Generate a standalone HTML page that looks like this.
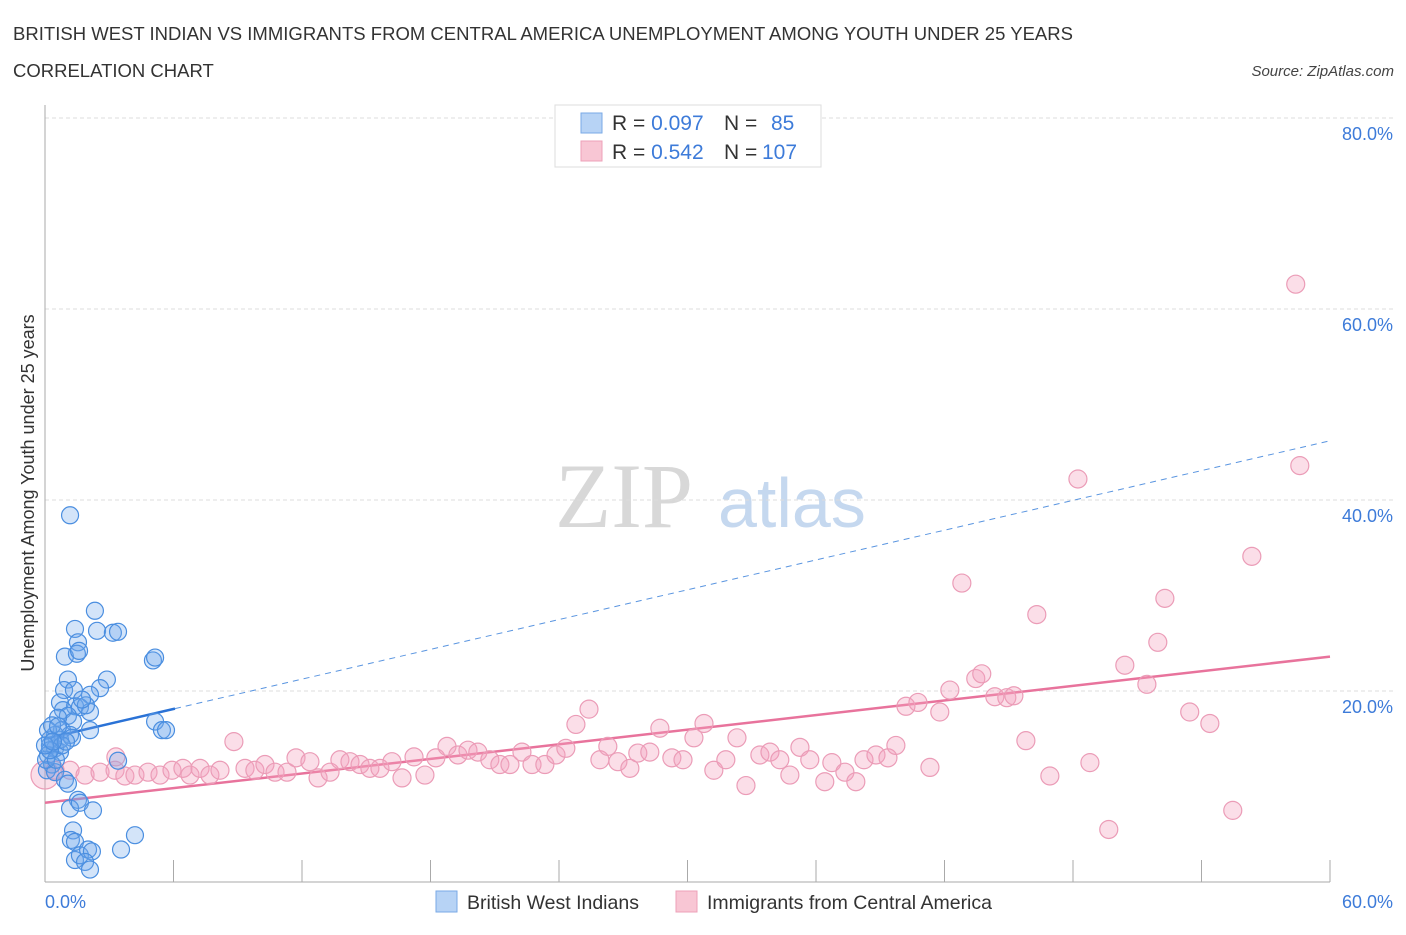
<!DOCTYPE html>
<html><head><meta charset="utf-8"><style>
body{margin:0;background:#fff;width:1406px;height:930px;overflow:hidden;font-family:"Liberation Sans",sans-serif}
</style></head><body>
<svg id="chart" width="1406" height="930" xmlns="http://www.w3.org/2000/svg" font-family="Liberation Sans, sans-serif">
<text x="13" y="40" font-size="18.5" fill="#333" textLength="1060">BRITISH WEST INDIAN VS IMMIGRANTS FROM CENTRAL AMERICA UNEMPLOYMENT AMONG YOUTH UNDER 25 YEARS</text>
<text x="13" y="77" font-size="18.5" fill="#333">CORRELATION CHART</text>
<text x="1394" y="76" font-size="15" fill="#444" font-style="italic" text-anchor="end">Source: ZipAtlas.com</text>
<g>
<text x="555" y="527" font-size="92" font-family="Liberation Serif, serif" fill="#d8d8d8">ZIP</text>
<text x="718" y="527" font-size="70" fill="#c5d8ef">atlas</text>
</g>
<g id="grid"></g>
<g id="axes"></g>
<g id="trend"></g>
<g id="pts"></g>
<text transform="translate(34,493) rotate(-90)" font-size="18" fill="#333" text-anchor="middle">Unemployment Among Youth under 25 years</text>
<g>
<rect x="555" y="105" width="266" height="62" fill="#fff" stroke="#ddd"/>
<rect x="581" y="113" width="21" height="20" fill="#b7d3f5" stroke="#7aa9e6"/>
<rect x="581" y="141" width="21" height="20" fill="#f8c6d4" stroke="#eea0b8"/>
<text x="612" y="130" font-size="21" fill="#333">R = <tspan fill="#3d7bd9">0.097</tspan><tspan x="724">N = </tspan><tspan x="771" fill="#3d7bd9">85</tspan></text>
<text x="612" y="159" font-size="21" fill="#333">R = <tspan fill="#3d7bd9">0.542</tspan><tspan x="724">N = </tspan><tspan x="762" fill="#3d7bd9">107</tspan></text>
</g>
<g>
<rect x="436" y="891" width="21" height="21" fill="#b7d3f5" stroke="#7aa9e6"/>
<text x="467" y="909" font-size="19.5" fill="#333">British West Indians</text>
<rect x="676" y="891" width="21" height="21" fill="#f8c6d4" stroke="#eea0b8"/>
<text x="707" y="909" font-size="19.5" fill="#333">Immigrants from Central America</text>
</g>
</svg>
<script>
const xTicks=[0,6,12,18,24,30,36,42,48,54,60];
const yTicks=[20,40,60,80];
const blueX=[1.17,2.33,2.43,1.40,1.54,3.17,3.41,0.93,1.49,1.59,2.89,2.57,1.07,2.10,0.89,0.70,1.40,1.63,0.84,1.07,2.10,1.31,0.61,0.79,1.17,2.10,0.47,0.23,0.47,0.70,0.14,0.33,0.09,0.47,0.70,1.26,5.04,5.14,5.14,5.46,5.65,3.41,0.93,1.07,1.54,1.17,1.63,2.24,1.31,1.21,1.40,4.20,1.40,1.63,2.01,2.19,1.87,2.10,3.55,0.23,0.14,0.33,0.05,0.51,0.79,0.98,0.61,1.91,1.35,1.73,0.23,0.0,0.37];
const blueY=[38.4,28.4,26.3,26.5,25.1,26.1,26.2,23.6,23.9,24.2,21.2,20.3,21.2,19.6,20.1,18.8,18.4,18.3,18.0,17.4,17.8,16.8,17.2,15.9,15.4,15.9,15.4,14.3,14.0,13.6,13.3,12.3,11.7,11.5,14.9,15.1,23.2,23.5,16.8,15.9,15.9,12.7,10.7,10.3,8.6,7.7,8.3,7.5,5.4,4.4,4.2,4.9,2.3,2.8,3.4,3.2,2.1,1.3,3.4,14.9,15.9,16.4,12.8,12.8,14.3,14.7,16.3,18.5,20.1,19.1,13.8,14.3,14.7];
const pinkX=[0,0.47,1.17,1.87,2.57,3.27,3.31,3.73,4.20,4.81,5.37,5.93,6.44,6.77,7.24,7.70,8.17,8.82,9.34,9.80,10.27,10.74,11.30,11.72,12.37,12.75,13.31,13.77,14.24,14.71,15.17,15.64,16.20,16.67,17.23,17.74,18.25,18.77,19.28,19.75,20.21,20.77,21.24,21.71,22.27,22.74,23.34,23.86,24.32,24.79,25.40,25.91,26.28,26.75,27.31,27.68,28.24,28.71,29.27,29.79,30.30,30.77,31.23,31.79,32.31,32.73,33.38,33.85,34.31,34.78,35.25,35.71,36.41,36.74,37.35,37.86,38.24,38.80,39.36,39.73,40.20,40.76,41.32,41.78,42.25,42.81,43.46,43.74,44.35,44.91,45.24,45.80,46.31,46.92,48.23,48.79,49.67,50.42,51.45,51.96,52.29,53.45,54.39,55.46,56.35,58.40,58.59];
const pinkY=[11.2,11.7,11.7,11.2,11.5,11.7,13.1,11.1,11.2,11.5,11.2,11.7,11.9,11.2,11.9,11.2,11.7,14.7,11.9,11.7,12.3,11.5,11.5,13.0,12.6,10.9,11.5,12.8,12.6,12.3,11.9,11.9,12.6,10.9,13.1,11.2,13.0,14.2,13.3,13.8,13.6,12.8,12.3,12.3,13.6,12.3,12.3,13.3,14.0,16.5,18.1,12.8,14.2,12.6,11.9,13.5,13.6,16.1,13.0,12.8,15.1,16.6,11.7,12.8,15.1,10.1,13.3,13.6,12.8,11.2,14.1,12.8,10.5,12.5,11.5,10.5,12.8,13.3,13.0,14.3,18.4,18.8,12.0,17.8,20.1,31.3,21.3,21.8,19.4,19.3,19.5,14.8,28.0,11.1,42.2,12.5,5.5,22.7,20.7,25.1,29.7,17.8,16.6,7.5,34.1,62.6,43.6];
const blueTrend=[15.0,0.52];
const pinkTrend=[8.3,0.255];
const X0=45,X1=1330,Y0=882,Y80=118;
const sx=v=>X0+(v/60)*(X1-X0);
const sy=v=>Y0-(v/80)*(Y0-Y80);
const NS="http://www.w3.org/2000/svg";
function mk(t,a,p){const e=document.createElementNS(NS,t);for(const k in a)e.setAttribute(k,a[k]);p.appendChild(e);return e;}
const grid=document.getElementById('grid'),axes=document.getElementById('axes'),trend=document.getElementById('trend'),pts=document.getElementById('pts');
yTicks.forEach(v=>{
 const l=mk('line',{x1:X0,x2:1393,y1:sy(v),y2:sy(v),stroke:'#ddd','stroke-dasharray':'4,3'},grid);
 
 
 const t=mk('text',{x:1393,y:sy(v)+22,'font-size':18,fill:'#3d7bd9','text-anchor':'end'},grid);
 t.textContent=v.toFixed(1)+'%';
 
 
});
const ya=mk('line',{x1:X0,x2:X0,y1:105,y2:Y0,stroke:'#aaa'},axes);


const xa=mk('line',{x1:X0,x2:X1,y1:Y0,y2:Y0,stroke:'#aaa'},axes);


xTicks.forEach(v=>{
 const tk=mk('line',{x1:sx(v),x2:sx(v),y1:Y0,y2:Y0-22,stroke:'#aaa'},axes);
 
 
});
[[0,'start',X0],[60,'end',1393]].forEach(([v,a,x])=>{
 const t=mk('text',{x:x,y:908,'font-size':18,fill:'#3d7bd9','text-anchor':a},axes);
 t.textContent=v.toFixed(1)+'%';
 
 
});
const bEnd=6.07;
const b1=mk('line',{x1:sx(0),y1:sy(blueTrend[0]),x2:sx(bEnd),y2:sy(blueTrend[0]+blueTrend[1]*bEnd),stroke:'#2a72d6','stroke-width':2.5},trend);


const b2=mk('line',{x1:sx(bEnd),y1:sy(blueTrend[0]+blueTrend[1]*bEnd),x2:sx(60),y2:sy(blueTrend[0]+blueTrend[1]*60),stroke:'#5a95e0','stroke-width':1,'stroke-dasharray':'6,5'},trend);


const p1=mk('line',{x1:sx(0),y1:sy(pinkTrend[0]),x2:sx(60),y2:sy(pinkTrend[0]+pinkTrend[1]*60),stroke:'#e8739c','stroke-width':2.5},trend);


pinkX.forEach((x,i)=>{
 const c=mk('circle',{cx:sx(x),cy:sy(pinkY[i]),r:i===0?14:9,fill:'rgba(244,160,188,0.35)',stroke:'#eb9cb7','stroke-width':1.2},pts);
 
 
});
blueX.forEach((x,i)=>{
 const c=mk('circle',{cx:sx(x),cy:sy(blueY[i]),r:8.5,fill:'rgba(110,165,235,0.3)',stroke:'#4a8ee0','stroke-width':1.2},pts);
 
 
});
</script>
</body></html>
